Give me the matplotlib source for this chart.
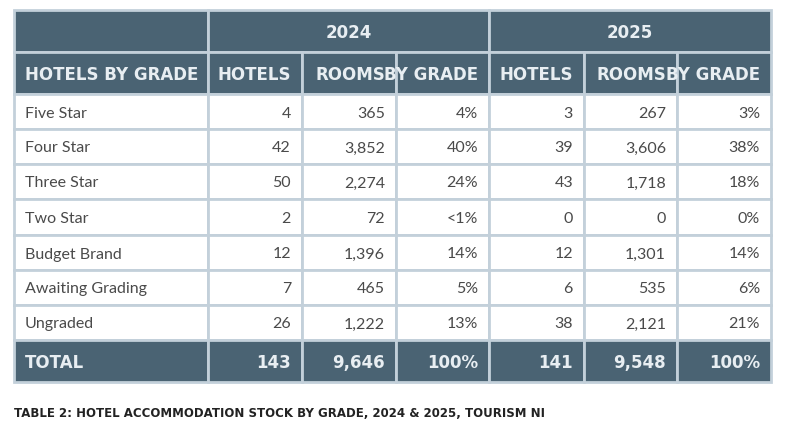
import matplotlib
matplotlib.use("Agg")
import matplotlib.pyplot as plt
from matplotlib.patches import Rectangle

years = ["2024", "2025"]
col_headers = ["HOTELS BY GRADE", "HOTELS", "ROOMS", "BY GRADE", "HOTELS", "ROOMS", "BY GRADE"]
grades = ["Five Star", "Four Star", "Three Star", "Two Star", "Budget Brand", "Awaiting Grading", "Ungraded"]
hotels_2024 = ["4", "42", "50", "2", "12", "7", "26"]
rooms_2024 = ["365", "3,852", "2,274", "72", "1,396", "465", "1,222"]
share_2024 = ["4%", "40%", "24%", "<1%", "14%", "5%", "13%"]
hotels_2025 = ["3", "39", "43", "0", "12", "6", "38"]
rooms_2025 = ["267", "3,606", "1,718", "0", "1,301", "535", "2,121"]
share_2025 = ["3%", "38%", "18%", "0%", "14%", "6%", "21%"]
total_row = ["TOTAL", "143", "9,646", "100%", "141", "9,548", "100%"]
caption = "TABLE 2: HOTEL ACCOMMODATION STOCK BY GRADE, 2024 & 2025, TOURISM NI"

HEAD = "#4a6373"
GRID = "#c3d0da"
TXT = "#4a4a4a"
COND = dict(family=["Liberation Sans Narrow", "DejaVu Sans"], fontweight="bold")

fig = plt.figure(figsize=(8, 4.35), dpi=100)
ax = fig.add_axes([0, 0, 1, 1])
ax.set_xlim(0, 800); ax.set_ylim(435, 0); ax.axis("off")

xs = [14, 208, 302, 396, 489, 584, 677, 771]
ys = [11, 53, 95, 130, 165, 200, 236, 271, 306, 341, 383]
lw = 2

def cell(x0, x1, y0, y1, fc):
    ax.add_patch(Rectangle((x0, y0), x1 - x0, y1 - y0, facecolor=fc, edgecolor=GRID, lw=lw))

cell(xs[0], xs[1], ys[0], ys[1], HEAD)
for i, y in enumerate(years):
    a, b = xs[1 + 3 * i], xs[4 + 3 * i]
    cell(a, b, ys[0], ys[1], HEAD)
    ax.text((a + b) / 2, (ys[0] + ys[1]) / 2 + 1, y, color="#e8eef2", fontsize=12, ha="center", va="center", **COND)

def row(vals, y0, y1, fc, color, font, size):
    for j, v in enumerate(vals):
        cell(xs[j], xs[j + 1], y0, y1, fc)
        if j == 0:
            ax.text(xs[0] + 11, (y0 + y1) / 2 + 1, v, ha="left", va="center", color=color, fontsize=size, **font)
        else:
            ax.text(xs[j + 1] - 11, (y0 + y1) / 2 + 1, v, ha="right", va="center", color=color, fontsize=size, **font)

row(col_headers, ys[1], ys[2], HEAD, "#e8eef2", COND, 12)
data = list(zip(grades, hotels_2024, rooms_2024, share_2024, hotels_2025, rooms_2025, share_2025))
for i, r in enumerate(data):
    row(r, ys[2 + i], ys[3 + i], "white", TXT, dict(family="Lato"), 11.5)
row(total_row, ys[9], ys[10], HEAD, "#e8eef2", COND, 12)

ax.text(14, 414, caption, ha="left", va="center", color="#222222", fontsize=8.5, **COND)
fig.savefig("out.png", dpi=100)
